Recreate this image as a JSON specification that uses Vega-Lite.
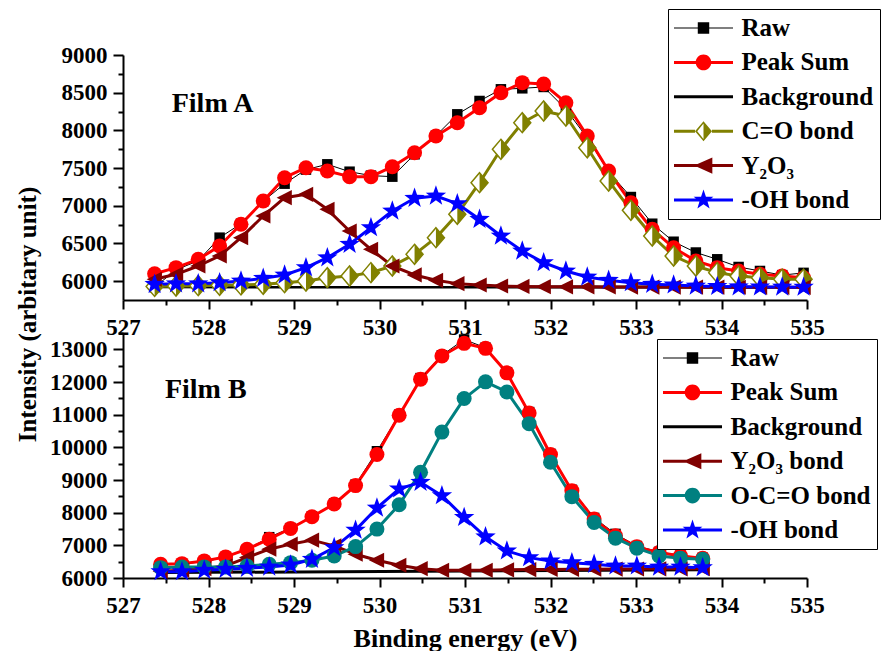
{
  "$schema": "https://vega.github.io/schema/vega-lite/v6.json",
  "background": "white",
  "padding": {"left": 15, "top": 8, "right": 0, "bottom": 0},
  "bounds": "flush",
  "spacing": 33,
  "datasets": {
    "filmA": [
      {"series": "Raw", "x": 527.37, "y": 5920}, {"series": "Raw", "x": 527.62, "y": 6150}, {"series": "Raw", "x": 527.88, "y": 6270}, {"series": "Raw", "x": 528.13, "y": 6577}, {"series": "Raw", "x": 528.38, "y": 6762}, {"series": "Raw", "x": 528.64, "y": 7060}, {"series": "Raw", "x": 528.89, "y": 7293}, {"series": "Raw", "x": 529.14, "y": 7480}, {"series": "Raw", "x": 529.39, "y": 7550}, {"series": "Raw", "x": 529.65, "y": 7452}, {"series": "Raw", "x": 529.9, "y": 7400}, {"series": "Raw", "x": 530.15, "y": 7386}, {"series": "Raw", "x": 530.41, "y": 7683}, {"series": "Raw", "x": 530.66, "y": 7930}, {"series": "Raw", "x": 530.91, "y": 8213}, {"series": "Raw", "x": 531.17, "y": 8390}, {"series": "Raw", "x": 531.42, "y": 8545}, {"series": "Raw", "x": 531.67, "y": 8558}, {"series": "Raw", "x": 531.92, "y": 8576}, {"series": "Raw", "x": 532.18, "y": 8280}, {"series": "Raw", "x": 532.43, "y": 7900}, {"series": "Raw", "x": 532.68, "y": 7450}, {"series": "Raw", "x": 532.94, "y": 7116}, {"series": "Raw", "x": 533.19, "y": 6762}, {"series": "Raw", "x": 533.44, "y": 6523}, {"series": "Raw", "x": 533.7, "y": 6380}, {"series": "Raw", "x": 533.95, "y": 6290}, {"series": "Raw", "x": 534.2, "y": 6188}, {"series": "Raw", "x": 534.45, "y": 6135}, {"series": "Raw", "x": 534.71, "y": 6080}, {"series": "Raw", "x": 534.96, "y": 6110},
      {"series": "Peak Sum", "x": 527.37, "y": 6099}, {"series": "Peak Sum", "x": 527.62, "y": 6179}, {"series": "Peak Sum", "x": 527.88, "y": 6290}, {"series": "Peak Sum", "x": 528.13, "y": 6466}, {"series": "Peak Sum", "x": 528.38, "y": 6754}, {"series": "Peak Sum", "x": 528.64, "y": 7063}, {"series": "Peak Sum", "x": 528.89, "y": 7372}, {"series": "Peak Sum", "x": 529.14, "y": 7505}, {"series": "Peak Sum", "x": 529.39, "y": 7461}, {"series": "Peak Sum", "x": 529.65, "y": 7386}, {"series": "Peak Sum", "x": 529.9, "y": 7386}, {"series": "Peak Sum", "x": 530.15, "y": 7518}, {"series": "Peak Sum", "x": 530.41, "y": 7704}, {"series": "Peak Sum", "x": 530.66, "y": 7926}, {"series": "Peak Sum", "x": 530.91, "y": 8102}, {"series": "Peak Sum", "x": 531.17, "y": 8301}, {"series": "Peak Sum", "x": 531.42, "y": 8500}, {"series": "Peak Sum", "x": 531.67, "y": 8633}, {"series": "Peak Sum", "x": 531.92, "y": 8615}, {"series": "Peak Sum", "x": 532.18, "y": 8367}, {"series": "Peak Sum", "x": 532.43, "y": 7926}, {"series": "Peak Sum", "x": 532.68, "y": 7461}, {"series": "Peak Sum", "x": 532.94, "y": 7041}, {"series": "Peak Sum", "x": 533.19, "y": 6688}, {"series": "Peak Sum", "x": 533.44, "y": 6444}, {"series": "Peak Sum", "x": 533.7, "y": 6267}, {"series": "Peak Sum", "x": 533.95, "y": 6179}, {"series": "Peak Sum", "x": 534.2, "y": 6135}, {"series": "Peak Sum", "x": 534.45, "y": 6091}, {"series": "Peak Sum", "x": 534.71, "y": 6068}, {"series": "Peak Sum", "x": 534.96, "y": 6046},
      {"series": "Background", "x": 527.37, "y": 5925}, {"series": "Background", "x": 534.96, "y": 5918},
      {"series": "C=O bond", "x": 527.37, "y": 5930}, {"series": "C=O bond", "x": 527.62, "y": 5935}, {"series": "C=O bond", "x": 527.88, "y": 5940}, {"series": "C=O bond", "x": 528.13, "y": 5945}, {"series": "C=O bond", "x": 528.38, "y": 5950}, {"series": "C=O bond", "x": 528.64, "y": 5958}, {"series": "C=O bond", "x": 528.89, "y": 5980}, {"series": "C=O bond", "x": 529.14, "y": 6002}, {"series": "C=O bond", "x": 529.39, "y": 6046}, {"series": "C=O bond", "x": 529.65, "y": 6068}, {"series": "C=O bond", "x": 529.9, "y": 6113}, {"series": "C=O bond", "x": 530.15, "y": 6201}, {"series": "C=O bond", "x": 530.41, "y": 6356}, {"series": "C=O bond", "x": 530.66, "y": 6577}, {"series": "C=O bond", "x": 530.91, "y": 6887}, {"series": "C=O bond", "x": 531.17, "y": 7306}, {"series": "C=O bond", "x": 531.42, "y": 7749}, {"series": "C=O bond", "x": 531.67, "y": 8102}, {"series": "C=O bond", "x": 531.92, "y": 8257}, {"series": "C=O bond", "x": 532.18, "y": 8191}, {"series": "C=O bond", "x": 532.43, "y": 7770}, {"series": "C=O bond", "x": 532.68, "y": 7329}, {"series": "C=O bond", "x": 532.94, "y": 6940}, {"series": "C=O bond", "x": 533.19, "y": 6599}, {"series": "C=O bond", "x": 533.44, "y": 6334}, {"series": "C=O bond", "x": 533.7, "y": 6201}, {"series": "C=O bond", "x": 533.95, "y": 6113}, {"series": "C=O bond", "x": 534.2, "y": 6068}, {"series": "C=O bond", "x": 534.45, "y": 6046}, {"series": "C=O bond", "x": 534.71, "y": 6025}, {"series": "C=O bond", "x": 534.96, "y": 6025},
      {"series": "Y₂O₃", "x": 527.37, "y": 6025}, {"series": "Y₂O₃", "x": 527.62, "y": 6091}, {"series": "Y₂O₃", "x": 527.88, "y": 6201}, {"series": "Y₂O₃", "x": 528.13, "y": 6334}, {"series": "Y₂O₃", "x": 528.38, "y": 6577}, {"series": "Y₂O₃", "x": 528.64, "y": 6864}, {"series": "Y₂O₃", "x": 528.89, "y": 7107}, {"series": "Y₂O₃", "x": 529.14, "y": 7152}, {"series": "Y₂O₃", "x": 529.39, "y": 6953}, {"series": "Y₂O₃", "x": 529.65, "y": 6665}, {"series": "Y₂O₃", "x": 529.9, "y": 6423}, {"series": "Y₂O₃", "x": 530.15, "y": 6201}, {"series": "Y₂O₃", "x": 530.41, "y": 6082}, {"series": "Y₂O₃", "x": 530.66, "y": 6011}, {"series": "Y₂O₃", "x": 530.91, "y": 5967}, {"series": "Y₂O₃", "x": 531.17, "y": 5949}, {"series": "Y₂O₃", "x": 531.42, "y": 5936}, {"series": "Y₂O₃", "x": 531.67, "y": 5930}, {"series": "Y₂O₃", "x": 531.92, "y": 5927}, {"series": "Y₂O₃", "x": 532.18, "y": 5925}, {"series": "Y₂O₃", "x": 532.43, "y": 5925}, {"series": "Y₂O₃", "x": 532.68, "y": 5924}, {"series": "Y₂O₃", "x": 532.94, "y": 5922}, {"series": "Y₂O₃", "x": 533.19, "y": 5922}, {"series": "Y₂O₃", "x": 533.44, "y": 5921}, {"series": "Y₂O₃", "x": 533.7, "y": 5920}, {"series": "Y₂O₃", "x": 533.95, "y": 5920}, {"series": "Y₂O₃", "x": 534.2, "y": 5919}, {"series": "Y₂O₃", "x": 534.45, "y": 5918}, {"series": "Y₂O₃", "x": 534.71, "y": 5918}, {"series": "Y₂O₃", "x": 534.96, "y": 5917},
      {"series": "-OH bond", "x": 527.37, "y": 5958}, {"series": "-OH bond", "x": 527.62, "y": 5965}, {"series": "-OH bond", "x": 527.88, "y": 5965}, {"series": "-OH bond", "x": 528.13, "y": 5980}, {"series": "-OH bond", "x": 528.38, "y": 6002}, {"series": "-OH bond", "x": 528.64, "y": 6038}, {"series": "-OH bond", "x": 528.89, "y": 6082}, {"series": "-OH bond", "x": 529.14, "y": 6179}, {"series": "-OH bond", "x": 529.39, "y": 6311}, {"series": "-OH bond", "x": 529.65, "y": 6489}, {"series": "-OH bond", "x": 529.9, "y": 6710}, {"series": "-OH bond", "x": 530.15, "y": 6931}, {"series": "-OH bond", "x": 530.41, "y": 7099}, {"series": "-OH bond", "x": 530.66, "y": 7130}, {"series": "-OH bond", "x": 530.91, "y": 7028}, {"series": "-OH bond", "x": 531.17, "y": 6820}, {"series": "-OH bond", "x": 531.42, "y": 6599}, {"series": "-OH bond", "x": 531.67, "y": 6400}, {"series": "-OH bond", "x": 531.92, "y": 6245}, {"series": "-OH bond", "x": 532.18, "y": 6135}, {"series": "-OH bond", "x": 532.43, "y": 6055}, {"series": "-OH bond", "x": 532.68, "y": 6011}, {"series": "-OH bond", "x": 532.94, "y": 5980}, {"series": "-OH bond", "x": 533.19, "y": 5958}, {"series": "-OH bond", "x": 533.44, "y": 5950}, {"series": "-OH bond", "x": 533.7, "y": 5936}, {"series": "-OH bond", "x": 533.95, "y": 5930}, {"series": "-OH bond", "x": 534.2, "y": 5925}, {"series": "-OH bond", "x": 534.45, "y": 5924}, {"series": "-OH bond", "x": 534.71, "y": 5922}, {"series": "-OH bond", "x": 534.96, "y": 5920}
    ],
    "filmB": [
      {"series": "Raw", "x": 527.44, "y": 6400}, {"series": "Raw", "x": 527.69, "y": 6430}, {"series": "Raw", "x": 527.95, "y": 6500}, {"series": "Raw", "x": 528.2, "y": 6640}, {"series": "Raw", "x": 528.45, "y": 6870}, {"series": "Raw", "x": 528.71, "y": 7250}, {"series": "Raw", "x": 528.96, "y": 7530}, {"series": "Raw", "x": 529.21, "y": 7890}, {"series": "Raw", "x": 529.47, "y": 8280}, {"series": "Raw", "x": 529.72, "y": 8860}, {"series": "Raw", "x": 529.97, "y": 9880}, {"series": "Raw", "x": 530.23, "y": 11000}, {"series": "Raw", "x": 530.48, "y": 12120}, {"series": "Raw", "x": 530.73, "y": 12820}, {"series": "Raw", "x": 530.99, "y": 13300}, {"series": "Raw", "x": 531.24, "y": 13050}, {"series": "Raw", "x": 531.49, "y": 12300}, {"series": "Raw", "x": 531.75, "y": 11080}, {"series": "Raw", "x": 532.0, "y": 9800}, {"series": "Raw", "x": 532.25, "y": 8700}, {"series": "Raw", "x": 532.51, "y": 7840}, {"series": "Raw", "x": 532.76, "y": 7350}, {"series": "Raw", "x": 533.01, "y": 6980}, {"series": "Raw", "x": 533.27, "y": 6800}, {"series": "Raw", "x": 533.52, "y": 6690}, {"series": "Raw", "x": 533.78, "y": 6620},
      {"series": "Peak Sum", "x": 527.44, "y": 6421}, {"series": "Peak Sum", "x": 527.69, "y": 6440}, {"series": "Peak Sum", "x": 527.95, "y": 6523}, {"series": "Peak Sum", "x": 528.2, "y": 6646}, {"series": "Peak Sum", "x": 528.45, "y": 6882}, {"series": "Peak Sum", "x": 528.71, "y": 7190}, {"series": "Peak Sum", "x": 528.96, "y": 7516}, {"series": "Peak Sum", "x": 529.21, "y": 7875}, {"series": "Peak Sum", "x": 529.47, "y": 8265}, {"series": "Peak Sum", "x": 529.72, "y": 8828}, {"series": "Peak Sum", "x": 529.97, "y": 9781}, {"series": "Peak Sum", "x": 530.23, "y": 10980}, {"series": "Peak Sum", "x": 530.48, "y": 12087}, {"series": "Peak Sum", "x": 530.73, "y": 12794}, {"series": "Peak Sum", "x": 530.99, "y": 13184}, {"series": "Peak Sum", "x": 531.24, "y": 13030}, {"series": "Peak Sum", "x": 531.49, "y": 12280}, {"series": "Peak Sum", "x": 531.75, "y": 11051}, {"series": "Peak Sum", "x": 532.0, "y": 9781}, {"series": "Peak Sum", "x": 532.25, "y": 8674}, {"series": "Peak Sum", "x": 532.51, "y": 7804}, {"series": "Peak Sum", "x": 532.76, "y": 7291}, {"series": "Peak Sum", "x": 533.01, "y": 6953}, {"series": "Peak Sum", "x": 533.27, "y": 6778}, {"series": "Peak Sum", "x": 533.52, "y": 6676}, {"series": "Peak Sum", "x": 533.78, "y": 6606},
      {"series": "Background", "x": 527.44, "y": 6165}, {"series": "Background", "x": 533.78, "y": 6250},
      {"series": "Y₂O₃ bond", "x": 527.44, "y": 6210}, {"series": "Y₂O₃ bond", "x": 527.69, "y": 6240}, {"series": "Y₂O₃ bond", "x": 527.95, "y": 6290}, {"series": "Y₂O₃ bond", "x": 528.2, "y": 6369}, {"series": "Y₂O₃ bond", "x": 528.45, "y": 6624}, {"series": "Y₂O₃ bond", "x": 528.71, "y": 6882}, {"series": "Y₂O₃ bond", "x": 528.96, "y": 7036}, {"series": "Y₂O₃ bond", "x": 529.21, "y": 7159}, {"series": "Y₂O₃ bond", "x": 529.47, "y": 6984}, {"series": "Y₂O₃ bond", "x": 529.72, "y": 6728}, {"series": "Y₂O₃ bond", "x": 529.97, "y": 6544}, {"series": "Y₂O₃ bond", "x": 530.23, "y": 6390}, {"series": "Y₂O₃ bond", "x": 530.48, "y": 6286}, {"series": "Y₂O₃ bond", "x": 530.73, "y": 6237}, {"series": "Y₂O₃ bond", "x": 530.99, "y": 6237}, {"series": "Y₂O₃ bond", "x": 531.24, "y": 6237}, {"series": "Y₂O₃ bond", "x": 531.49, "y": 6250}, {"series": "Y₂O₃ bond", "x": 531.75, "y": 6258}, {"series": "Y₂O₃ bond", "x": 532.0, "y": 6262}, {"series": "Y₂O₃ bond", "x": 532.25, "y": 6266}, {"series": "Y₂O₃ bond", "x": 532.51, "y": 6270}, {"series": "Y₂O₃ bond", "x": 532.76, "y": 6273}, {"series": "Y₂O₃ bond", "x": 533.01, "y": 6276}, {"series": "Y₂O₃ bond", "x": 533.27, "y": 6280}, {"series": "Y₂O₃ bond", "x": 533.52, "y": 6282}, {"series": "Y₂O₃ bond", "x": 533.78, "y": 6285},
      {"series": "O-C=O bond", "x": 527.44, "y": 6317}, {"series": "O-C=O bond", "x": 527.69, "y": 6335}, {"series": "O-C=O bond", "x": 527.95, "y": 6340}, {"series": "O-C=O bond", "x": 528.2, "y": 6340}, {"series": "O-C=O bond", "x": 528.45, "y": 6369}, {"series": "O-C=O bond", "x": 528.71, "y": 6421}, {"series": "O-C=O bond", "x": 528.96, "y": 6470}, {"series": "O-C=O bond", "x": 529.21, "y": 6544}, {"series": "O-C=O bond", "x": 529.47, "y": 6676}, {"series": "O-C=O bond", "x": 529.72, "y": 6962}, {"series": "O-C=O bond", "x": 529.97, "y": 7497}, {"series": "O-C=O bond", "x": 530.23, "y": 8244}, {"series": "O-C=O bond", "x": 530.48, "y": 9237}, {"series": "O-C=O bond", "x": 530.73, "y": 10466}, {"series": "O-C=O bond", "x": 530.99, "y": 11493}, {"series": "O-C=O bond", "x": 531.24, "y": 12004}, {"series": "O-C=O bond", "x": 531.49, "y": 11696}, {"series": "O-C=O bond", "x": 531.75, "y": 10725}, {"series": "O-C=O bond", "x": 532.0, "y": 9544}, {"series": "O-C=O bond", "x": 532.25, "y": 8490}, {"series": "O-C=O bond", "x": 532.51, "y": 7700}, {"series": "O-C=O bond", "x": 532.76, "y": 7220}, {"series": "O-C=O bond", "x": 533.01, "y": 6913}, {"series": "O-C=O bond", "x": 533.27, "y": 6676}, {"series": "O-C=O bond", "x": 533.52, "y": 6606}, {"series": "O-C=O bond", "x": 533.78, "y": 6575},
      {"series": "-OH bond", "x": 527.44, "y": 6194}, {"series": "-OH bond", "x": 527.69, "y": 6194}, {"series": "-OH bond", "x": 527.95, "y": 6237}, {"series": "-OH bond", "x": 528.2, "y": 6267}, {"series": "-OH bond", "x": 528.45, "y": 6298}, {"series": "-OH bond", "x": 528.71, "y": 6338}, {"series": "-OH bond", "x": 528.96, "y": 6400}, {"series": "-OH bond", "x": 529.21, "y": 6575}, {"series": "-OH bond", "x": 529.47, "y": 6931}, {"series": "-OH bond", "x": 529.72, "y": 7466}, {"series": "-OH bond", "x": 529.97, "y": 8143}, {"series": "-OH bond", "x": 530.23, "y": 8727}, {"series": "-OH bond", "x": 530.48, "y": 8930}, {"series": "-OH bond", "x": 530.73, "y": 8521}, {"series": "-OH bond", "x": 530.99, "y": 7854}, {"series": "-OH bond", "x": 531.24, "y": 7260}, {"series": "-OH bond", "x": 531.49, "y": 6830}, {"series": "-OH bond", "x": 531.75, "y": 6624}, {"series": "-OH bond", "x": 532.0, "y": 6523}, {"series": "-OH bond", "x": 532.25, "y": 6470}, {"series": "-OH bond", "x": 532.51, "y": 6421}, {"series": "-OH bond", "x": 532.76, "y": 6369}, {"series": "-OH bond", "x": 533.01, "y": 6369}, {"series": "-OH bond", "x": 533.27, "y": 6338}, {"series": "-OH bond", "x": 533.52, "y": 6338}, {"series": "-OH bond", "x": 533.78, "y": 6317}
    ]
  },
  "vconcat": [
    {
      "width": 684,
      "height": 245,
      "data": {"name": "filmA"},
      "encoding": {
        "x": {
          "field": "x", "type": "quantitative",
          "scale": {"domain": [527, 535], "nice": false, "zero": false},
          "axis": {
            "title": null,
            "values": [527, 527.5, 528, 528.5, 529, 529.5, 530, 530.5, 531, 531.5, 532, 532.5, 533, 533.5, 534, 534.5, 535],
            "labelExpr": "datum.value % 1 === 0 ? format(datum.value, 'd') : ''",
            "tickSize": {"condition": {"test": "datum.value % 1 === 0", "value": 9}, "value": 5},
            "labelPadding": 7
          }
        },
        "y": {
          "field": "y", "type": "quantitative",
          "scale": {"domain": [5750, 9000], "nice": false, "zero": false},
          "axis": {
            "title": "Intensity (arbitary unit)",
            "titleX": -83,
            "titleY": 259,
            "titleFontSize": 25,
            "values": [6000, 6250, 6500, 6750, 7000, 7250, 7500, 7750, 8000, 8250, 8500, 8750, 9000],
            "labelExpr": "datum.value % 500 === 0 ? format(datum.value, 'd') : ''",
            "tickSize": {"condition": {"test": "datum.value % 500 === 0", "value": 10}, "value": 5},
            "labelPadding": 6
          }
        }
      },
      "layer": [
        {
          "mark": {"type": "point", "filled": true, "opacity": 0},
          "encoding": {
            "color": {
              "field": "series", "type": "nominal",
              "scale": {
                "domain": ["Raw", "Peak Sum", "Background", "C=O bond", "Y₂O₃", "-OH bond"],
                "range": ["#000000", "#ff0000", "#000000", "#808000", "#800000", "#0000ff"]
              },
              "legend": {"title": null, "orient": "none", "legendX": 545, "legendY": -46, "symbolOpacity": 1}
            },
            "shape": {
              "field": "series", "type": "nominal",
              "scale": {
                "domain": ["Raw", "Peak Sum", "Background", "C=O bond", "Y₂O₃", "-OH bond"],
                "range": [
                  "M-2.27,-0.04H2.27V0.04H-2.27ZM-0.44,-0.44H0.44V0.44H-0.44Z",
                  "M-2.27,-0.115H2.27V0.115H-2.27ZM-0.6,0A0.6,0.6,0,1,1,0.6,0A0.6,0.6,0,1,1,-0.6,0Z",
                  "M-2.27,-0.115H2.27V0.115H-2.27Z",
                  "M-2.27,-0.115H-0.65V0.115H-2.27ZM0.65,-0.115H2.27V0.115H0.65ZM0,-0.77L0.65,0L0,0.77L-0.65,0ZM0,-0.6L-0.48,0L0,0.6L0.48,0ZM0,-0.77L0.65,0L0,0.77Z",
                  "M-2.27,-0.115H2.27V0.115H-2.27ZM-0.72,0L0.68,-0.62L0.68,0.62Z",
                  "M-2.27,-0.115H2.27V0.115H-2.27ZM0,-0.8L0.188,-0.259L0.761,-0.247L0.304,0.099L0.47,0.647L0,0.32L-0.47,0.647L-0.304,0.099L-0.761,-0.247L-0.188,-0.259Z"
                ]
              },
              "legend": {"title": null, "orient": "none", "legendX": 545, "legendY": -46, "symbolOpacity": 1}
            }
          }
        },
        {
          "transform": [{"filter": {"field": "series", "equal": "Raw"}}],
          "mark": {"type": "line", "strokeWidth": 1, "color": "#000000"}
        },
        {
          "transform": [{"filter": {"not": {"field": "series", "equal": "Raw"}}}],
          "mark": {"type": "line", "strokeWidth": 3, "strokeJoin": "round"},
          "encoding": {
            "stroke": {
              "field": "series", "type": "nominal", "legend": null,
              "scale": {
                "domain": ["-OH bond", "Y₂O₃", "C=O bond", "Background", "Peak Sum"],
                "range": ["#0000ff", "#800000", "#808000", "#000000", "#ff0000"]
              }
            }
          }
        },
        {
          "transform": [{"filter": {"field": "series", "equal": "Raw"}}],
          "mark": {"type": "point", "shape": "square", "size": 110, "filled": true, "color": "#000000", "opacity": 1}
        },
        {
          "transform": [{"filter": {"field": "series", "equal": "Peak Sum"}}],
          "mark": {"type": "point", "shape": "circle", "size": 225, "filled": true, "color": "#ff0000", "opacity": 1}
        },
        {
          "transform": [{"filter": {"field": "series", "equal": "C=O bond"}}],
          "mark": {"type": "point", "shape": "M0,-1L0.85,0L0,1L-0.85,0Z", "size": 400, "filled": true, "fill": "#ffffff", "stroke": "#808000", "strokeWidth": 1.5, "opacity": 1}
        },
        {
          "transform": [{"filter": {"field": "series", "equal": "C=O bond"}}],
          "mark": {"type": "point", "shape": "M0,-1L0.85,0L0,1Z", "size": 400, "filled": true, "color": "#808000", "strokeWidth": 0, "opacity": 1}
        },
        {
          "transform": [{"filter": {"field": "series", "equal": "Y₂O₃"}}],
          "mark": {"type": "point", "shape": "M-1,0L0.9,-0.95L0.9,0.95Z", "size": 256, "filled": true, "color": "#800000", "opacity": 1}
        },
        {
          "transform": [{"filter": {"field": "series", "equal": "-OH bond"}}],
          "mark": {"type": "point", "shape": "M0,-1L0.235,-0.324L0.951,-0.309L0.38,0.124L0.588,0.809L0,0.4L-0.588,0.809L-0.38,0.124L-0.951,-0.309L-0.235,-0.324Z", "size": 460, "filled": true, "color": "#0000ff", "opacity": 1}
        },
        {
          "transform": [{"filter": "datum.series === 'Background' && datum.x < 528"}],
          "mark": {"type": "text", "align": "left", "baseline": "middle", "font": "Liberation Serif", "fontWeight": "bold", "fontSize": 28, "color": "#000000"},
          "encoding": {
            "x": {"datum": 527.57, "type": "quantitative"},
            "y": {"datum": 8350, "type": "quantitative"},
            "text": {"value": "Film A"}
          }
        }
      ]
    },
    {
      "width": 684,
      "height": 245,
      "data": {"name": "filmB"},
      "encoding": {
        "x": {
          "field": "x", "type": "quantitative",
          "scale": {"domain": [527, 535], "nice": false, "zero": false},
          "axis": {
            "title": "Binding energy (eV)",
            "titleFontSize": 26,
            "titlePadding": 8,
            "values": [527, 527.5, 528, 528.5, 529, 529.5, 530, 530.5, 531, 531.5, 532, 532.5, 533, 533.5, 534, 534.5, 535],
            "labelExpr": "datum.value % 1 === 0 ? format(datum.value, 'd') : ''",
            "tickSize": {"condition": {"test": "datum.value % 1 === 0", "value": 9}, "value": 5},
            "labelPadding": 7
          }
        },
        "y": {
          "field": "y", "type": "quantitative",
          "scale": {"domain": [6000, 13500], "nice": false, "zero": false},
          "axis": {
            "title": null,
            "values": [6000, 6500, 7000, 7500, 8000, 8500, 9000, 9500, 10000, 10500, 11000, 11500, 12000, 12500, 13000, 13500],
            "labelExpr": "datum.value % 1000 === 0 ? format(datum.value, 'd') : ''",
            "tickSize": {"condition": {"test": "datum.value % 1000 === 0", "value": 10}, "value": 5},
            "labelPadding": 6
          }
        }
      },
      "layer": [
        {
          "mark": {"type": "point", "filled": true, "opacity": 0},
          "encoding": {
            "color": {
              "field": "series", "type": "nominal",
              "scale": {
                "domain": ["Raw", "Peak Sum", "Background", "Y₂O₃ bond", "O-C=O bond", "-OH bond"],
                "range": ["#000000", "#ff0000", "#000000", "#800000", "#008080", "#0000ff"]
              },
              "legend": {"title": null, "orient": "none", "legendX": 534, "legendY": 6, "symbolOpacity": 1}
            },
            "shape": {
              "field": "series", "type": "nominal",
              "scale": {
                "domain": ["Raw", "Peak Sum", "Background", "Y₂O₃ bond", "O-C=O bond", "-OH bond"],
                "range": [
                  "M-2.27,-0.04H2.27V0.04H-2.27ZM-0.44,-0.44H0.44V0.44H-0.44Z",
                  "M-2.27,-0.115H2.27V0.115H-2.27ZM-0.6,0A0.6,0.6,0,1,1,0.6,0A0.6,0.6,0,1,1,-0.6,0Z",
                  "M-2.27,-0.115H2.27V0.115H-2.27Z",
                  "M-2.27,-0.115H2.27V0.115H-2.27ZM-0.72,0L0.68,-0.62L0.68,0.62Z",
                  "M-2.27,-0.115H2.27V0.115H-2.27ZM-0.6,0A0.6,0.6,0,1,1,0.6,0A0.6,0.6,0,1,1,-0.6,0Z",
                  "M-2.27,-0.115H2.27V0.115H-2.27ZM0,-0.8L0.188,-0.259L0.761,-0.247L0.304,0.099L0.47,0.647L0,0.32L-0.47,0.647L-0.304,0.099L-0.761,-0.247L-0.188,-0.259Z"
                ]
              },
              "legend": {"title": null, "orient": "none", "legendX": 534, "legendY": 6, "symbolOpacity": 1}
            }
          }
        },
        {
          "transform": [{"filter": {"field": "series", "equal": "Raw"}}],
          "mark": {"type": "line", "strokeWidth": 1, "color": "#000000"}
        },
        {
          "transform": [{"filter": {"not": {"field": "series", "equal": "Raw"}}}],
          "mark": {"type": "line", "strokeWidth": 3, "strokeJoin": "round"},
          "encoding": {
            "stroke": {
              "field": "series", "type": "nominal", "legend": null,
              "scale": {
                "domain": ["-OH bond", "O-C=O bond", "Y₂O₃ bond", "Background", "Peak Sum"],
                "range": ["#0000ff", "#008080", "#800000", "#000000", "#ff0000"]
              }
            }
          }
        },
        {
          "transform": [{"filter": {"field": "series", "equal": "Raw"}}],
          "mark": {"type": "point", "shape": "square", "size": 110, "filled": true, "color": "#000000", "opacity": 1}
        },
        {
          "transform": [{"filter": {"field": "series", "equal": "Peak Sum"}}],
          "mark": {"type": "point", "shape": "circle", "size": 225, "filled": true, "color": "#ff0000", "opacity": 1}
        },
        {
          "transform": [{"filter": {"field": "series", "equal": "Y₂O₃ bond"}}],
          "mark": {"type": "point", "shape": "M-1,0L0.9,-0.95L0.9,0.95Z", "size": 256, "filled": true, "color": "#800000", "opacity": 1}
        },
        {
          "transform": [{"filter": {"field": "series", "equal": "O-C=O bond"}}],
          "mark": {"type": "point", "shape": "circle", "size": 225, "filled": true, "color": "#008080", "opacity": 1}
        },
        {
          "transform": [{"filter": {"field": "series", "equal": "-OH bond"}}],
          "mark": {"type": "point", "shape": "M0,-1L0.235,-0.324L0.951,-0.309L0.38,0.124L0.588,0.809L0,0.4L-0.588,0.809L-0.38,0.124L-0.951,-0.309L-0.235,-0.324Z", "size": 460, "filled": true, "color": "#0000ff", "opacity": 1}
        },
        {
          "transform": [{"filter": "datum.series === 'Background' && datum.x < 528"}],
          "mark": {"type": "text", "align": "left", "baseline": "middle", "font": "Liberation Serif", "fontWeight": "bold", "fontSize": 28, "color": "#000000"},
          "encoding": {
            "x": {"datum": 527.49, "type": "quantitative"},
            "y": {"datum": 11748, "type": "quantitative"},
            "text": {"value": "Film B"}
          }
        }
      ]
    }
  ],
  "resolve": {
    "scale": {"color": "independent", "shape": "independent", "stroke": "independent"},
    "legend": {"color": "independent", "shape": "independent"}
  },
  "config": {
    "view": {"stroke": null},
    "font": "Liberation Serif",
    "axis": {
      "grid": false,
      "labelFont": "Liberation Serif",
      "labelFontWeight": "bold",
      "labelFontSize": 23,
      "labelColor": "#000000",
      "labelFlush": false,
      "labelOverlap": false,
      "labelBound": false,
      "titleFont": "Liberation Serif",
      "titleFontWeight": "bold",
      "titleColor": "#000000",
      "domainColor": "#000000",
      "domainWidth": 2,
      "tickColor": "#000000",
      "tickWidth": 2
    },
    "legend": {
      "labelFont": "Liberation Serif",
      "labelFontWeight": "bold",
      "labelFontSize": 25,
      "labelColor": "#000000",
      "labelLimit": 400,
      "symbolSize": 676,
      "symbolStrokeWidth": 0,
      "symbolOffset": 16.5,
      "labelOffset": 25,
      "rowPadding": 8.4,
      "padding": 6,
      "strokeColor": "#000000",
      "fillColor": "#ffffff"
    }
  }
}
